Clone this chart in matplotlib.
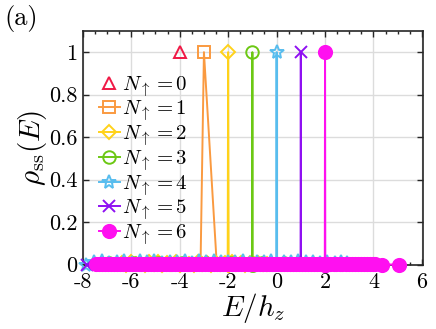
import matplotlib
matplotlib.use('Agg')
import matplotlib.pyplot as plt
from matplotlib.ticker import MultipleLocator

# Data: energies E/h_z and rho_ss(E) per N_up sector
E0 = [-4.0]
r0 = [1.0]

E1 = [-5.6, -5.1, -4.55, -4.1, -3.6, -3.14, -3.0, -2.47, -2.0, -1.55, -1.1, -0.6]
r1 = [0.002, 0.001, 0.003, 0.001, 0.002, 0.0, 1.0, 0.0, 0.002, 0.001, 0.003, 0.001]

E2 = [-6.4, -6.2, -6.0, -5.82, -5.63, -5.45, -5.27, -5.08, -4.9, -4.72, -4.53, -4.35,
      -4.16, -3.98, -3.8, -3.61, -3.43, -3.25, -3.06, -2.88, -2.7, -2.51, -2.33, -2.15,
      -2.02, -2.0, -1.98, -1.85, -1.66, -1.48, -1.3, -1.11, -0.93, -0.75, -0.56, -0.4]
r2 = [0.008, 0.0, 0.011, 0.002, 0.009, 0.0, 0.012, 0.003, 0.01, 0.0, 0.008, 0.002,
      0.011, 0.0, 0.009, 0.004, 0.0, 0.01, 0.002, 0.008, 0.0, 0.007, 0.003, 0.009,
      0.0, 1.0, 0.0, 0.01, 0.002, 0.008, 0.0, 0.007, 0.003, 0.009, 0.001, 0.004]

E3 = [-7.3, -6.9, -6.4, -5.9, -5.4, -4.9, -4.4, -3.9, -3.4, -2.9, -2.4, -1.9,
      -1.4, -1.01, -1.0, -0.99, -0.6, -0.2, 0.3, 0.8, 1.3]
r3 = [0.004, 0.006, 0.003, 0.005, 0.004, 0.006, 0.003, 0.005, 0.004, 0.006, 0.003,
      0.005, 0.004, 0.0, 1.0, 0.0, 0.005, 0.003, 0.006, 0.004, 0.003]

E4 = [-7.85, -7.55, -7.2, -6.9, -6.6, -6.3, -5.95, -5.65, -5.35, -5.05, -4.75, -4.4,
      -4.1, -3.8, -3.5, -3.2, -2.9, -2.6, -2.3, -2.0, -1.7, -1.4, -1.1, -0.8, -0.5,
      -0.25, -0.01, 0.0, 0.01, 0.3, 0.6, 0.9, 1.2, 1.5, 1.8, 2.1, 2.4, 2.65, 2.9]
r4 = [0.0, 0.01, 0.016, 0.008, 0.014, 0.018, 0.009, 0.015, 0.011, 0.017, 0.008, 0.014,
      0.012, 0.016, 0.009, 0.015, 0.012, 0.017, 0.01, 0.014, 0.011, 0.016, 0.009, 0.013,
      0.012, 0.015, 0.0, 1.0, 0.0, 0.014, 0.01, 0.016, 0.011, 0.013, 0.009, 0.012,
      0.008, 0.01, 0.006]

E5 = [-7.82, -7.1, -6.5, -5.9, -5.3, -4.7, -4.1, -3.5, -2.9, -2.3, -1.7, -1.1,
      -0.5, 0.1, 0.6, 0.99, 1.0, 1.01, 1.5, 2.0, 2.5, 3.0, 3.5]
r5 = [0.0, 0.002, 0.001, 0.002, 0.001, 0.002, 0.001, 0.002, 0.001, 0.002, 0.001,
      0.002, 0.001, 0.002, 0.001, 0.0, 1.0, 0.0, 0.001, 0.002, 0.001, 0.002, 0.001]

E6 = [-7.45, -7.33, -7.2, -7.08, -6.95, -6.83, -6.7, -6.58, -6.45, -6.33, -6.2,
      -6.08, -5.95, -5.83, -5.7, -5.58, -5.45, -5.33, -5.2, -5.08, -4.95, -4.83,
      -4.7, -4.58, -4.45, -4.33, -4.2, -4.08, -3.95, -3.83, -3.7, -3.58, -3.45,
      -3.33, -3.2, -3.08, -2.95, -2.83, -2.7, -2.58, -2.45, -2.33, -2.2, -2.08,
      -1.95, -1.83, -1.7, -1.58, -1.45, -1.33, -1.2, -1.08, -0.95, -0.83, -0.7,
      -0.58, -0.45, -0.33, -0.2, -0.08, 0.05, 0.17, 0.3, 0.42, 0.55, 0.67, 0.8,
      0.92, 1.05, 1.17, 1.3, 1.42, 1.55, 1.67, 1.8, 1.9, 1.99, 2.0, 2.01, 2.1,
      2.22, 2.35, 2.47, 2.6, 2.72, 2.85, 2.97, 3.1, 3.22, 3.35, 3.47, 3.6, 3.72,
      3.85, 3.97, 4.08, 4.37, 5.05]
r6 = [0.002, 0.001, 0.003, 0.001, 0.002, 0.001, 0.003, 0.002, 0.001, 0.002, 0.003,
      0.001, 0.002, 0.001, 0.003, 0.002, 0.001, 0.002, 0.003, 0.001, 0.002, 0.001,
      0.003, 0.002, 0.001, 0.002, 0.003, 0.001, 0.002, 0.001, 0.003, 0.002, 0.001,
      0.002, 0.003, 0.001, 0.002, 0.001, 0.003, 0.002, 0.001, 0.002, 0.003, 0.001,
      0.002, 0.001, 0.003, 0.002, 0.001, 0.002, 0.003, 0.001, 0.002, 0.001, 0.003,
      0.002, 0.001, 0.002, 0.003, 0.001, 0.002, 0.001, 0.003, 0.002, 0.001, 0.002,
      0.003, 0.001, 0.002, 0.001, 0.003, 0.002, 0.001, 0.002, 0.003, 0.001, 0.0,
      1.0, 0.0, 0.002, 0.001, 0.003, 0.002, 0.001, 0.002, 0.003, 0.001, 0.002,
      0.001, 0.003, 0.002, 0.001, 0.002, 0.003, 0.001, 0.002, 0.0, 0.0]

series = [
    (E0, r0, '^', '#F01845', 'none'),
    (E1, r1, 's', '#FA9A40', 'none'),
    (E2, r2, 'D', '#FFD21A', 'none'),
    (E3, r3, 'o', '#6CC814', 'none'),
    (E4, r4, '*', '#58BDEE', 'none'),
    (E5, r5, 'x', '#8F10F2', 'none'),
    (E6, r6, 'o', '#FF10F0', 'fill'),
]
sizes = [9, 8, 7.5, 9, 10, 9, 9.5]

plt.rcParams['font.family'] = ['cmr10', 'DejaVu Serif']
plt.rcParams['mathtext.fontset'] = 'cm'
plt.rcParams['axes.unicode_minus'] = False
plt.rcParams['axes.formatter.use_mathtext'] = False

fig = plt.figure(figsize=(4.36, 3.29), dpi=100)
ax = fig.add_axes([0.190, 0.196, 0.781, 0.710])

for n, (E, r, m, c, fill) in enumerate(series):
    mfc = c if fill == 'fill' else 'none'
    ls = 'none' if n == 0 else '-'
    ax.plot(E, r, ls=ls, lw=1.4, color=c, marker=m, ms=sizes[n], mfc=mfc,
            mec=c, mew=1.4, clip_on=False, zorder=3 + n,
            label=r'$N_{\uparrow}=%d$' % n)

ax.set_xlim(-8.0, 6.06)
ax.set_ylim(0, 1.1)
ax.set_xticks([-8, -6, -4, -2, 0, 2, 4, 6])
ax.set_xticklabels(['-8', '-6', '-4', '-2', '0', '2', '4', '6'])
ax.xaxis.set_minor_locator(MultipleLocator(0.5))
ax.set_yticks([0, 0.2, 0.4, 0.6, 0.8, 1.0])
ax.set_yticklabels(['0', '0.2', '0.4', '0.6', '0.8', '1'])
ax.grid(True, which='major', color='#DCDCDC', lw=1.0)
ax.set_axisbelow(True)
ax.tick_params(which='both', direction='in', top=True, right=True,
               labelsize=16, color='#262626', width=1.0)
ax.tick_params(which='major', length=4)
ax.tick_params(which='minor', length=2.5)
ax.tick_params(axis='x', pad=6)
ax.tick_params(axis='y', pad=4)
for s in ax.spines.values():
    s.set_linewidth(1.2)
    s.set_color('#262626')

ax.set_xlabel(r'$E/h_z$', fontsize=21, labelpad=-1)
ax.set_ylabel(r'$\rho_{\rm ss}(E)$', fontsize=21, labelpad=0)

ax.legend(loc='upper left', bbox_to_anchor=(0.01, 0.87), frameon=False,
          fontsize=15, handlelength=1.0, handletextpad=0.1,
          labelspacing=0.0, borderaxespad=0.2)

fig.text(0.010, 0.985, '(a)', fontsize=19, va='top', ha='left')

fig.savefig('out.png', dpi=100)
